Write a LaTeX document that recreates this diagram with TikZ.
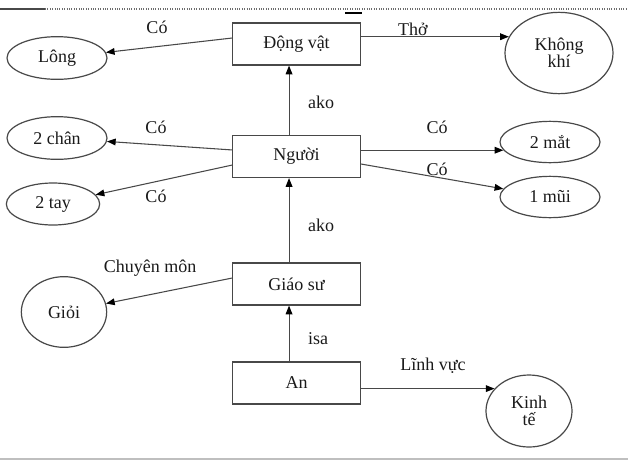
\documentclass[tikz,border=0pt]{standalone}
\usepackage{fontspec}
\setmainfont{Liberation Serif}
\usetikzlibrary{arrows.meta,shapes.geometric}
\definecolor{linec}{HTML}{484848}
\definecolor{textc}{HTML}{1A1A1A}
\tikzset{
  box/.style={draw=linec, line width=0.9pt, minimum width=95.5pt, minimum height=31.5pt, inner sep=0pt, text=textc, font=\fontsize{13.5}{15}\selectfont},
  oval/.style={draw=linec, line width=0.9pt, ellipse, inner sep=0pt, text=textc, align=center, font=\fontsize{13.5}{15}\selectfont},
  lbl/.style={text=textc, inner sep=0pt, font=\fontsize{13.5}{15}\selectfont},
  arr/.style={draw=linec, line width=0.8pt, -{Triangle[length=6.5pt,width=5pt,color=black,fill=black]}},
}
\begin{document}
\begin{tikzpicture}[x=0.75pt,y=-0.75pt]
\useasboundingbox (0,0) rectangle (628,461);
% page decorations
\coordinate (t0) at (0,9);
\coordinate (t1) at (45,9);
\coordinate (t2) at (628,9);
\draw[linec, line width=1pt] (t0) -- (t1);
\draw[linec!80, line width=0.9pt, dash pattern=on 0.8pt off 1pt] (t1) -- (t2);
\coordinate (m0) at (345,13);
\coordinate (m1) at (362,13);
\draw[black, line width=2pt] (m0) -- (m1);
\coordinate (b0) at (0,459);
\coordinate (b1) at (628,459);
\draw[gray!50, line width=1.5pt] (b0) -- (b1);

% boxes
\node[box] (dv) at (296.5,44) {Động vật};
\node[box] (ng) at (296.5,156.5) {Người};
\node[box] (gs) at (296.5,284) {Giáo sư};
\node[box] (an) at (296.5,383) {An};

% ovals
\node[oval, minimum width=75pt, minimum height=32pt] (lo) at (57,58) {Lông};
\node[oval, minimum width=81pt, minimum height=61pt] (kk) at (559,53) {Không\\[-2pt]khí};
\node[oval, minimum width=75pt, minimum height=32pt] (ch) at (57,138) {2 chân};
\node[oval, minimum width=70pt, minimum height=31.5pt] (ta) at (53,204) {2 tay};
\node[oval, minimum width=75pt, minimum height=31pt] (mat) at (550,142) {2 mắt};
\node[oval, minimum width=75pt, minimum height=31pt] (mui) at (550,197) {1 mũi};
\node[oval, minimum width=64pt, minimum height=53pt] (gi) at (64,312) {Giỏi};
\node[oval, minimum width=64.5pt, minimum height=54pt] (kt) at (529,411) {Kinh\\[-2pt]tế};

% connectors
\draw[arr] ([yshift=4.5pt]dv.west) -- (lo);
\draw[arr] (dv.east |- kk.162) -- (kk.162);
\draw[arr] ([xshift=-5.6pt]ng.north) -- ([xshift=-5.6pt]dv.south);
\draw[arr] ([yshift=4.9pt]ng.west) -- (ch);
\draw[arr] ([yshift=-6.4pt]ng.west) -- (ta);
\draw[arr] (ng.east |- mat.190) -- (mat.190);
\draw[arr] ([yshift=-5.6pt]ng.east) -- (mui);
\draw[arr] ([xshift=-5.6pt]gs.north) -- ([xshift=-5.6pt]ng.south);
\draw[arr] ([yshift=4.5pt]gs.west) -- (gi);
\draw[arr] ([xshift=-5.6pt]an.north) -- ([xshift=-5.6pt]gs.south);
\draw[arr] (an.east |- kt.147) -- (kt.147);

% labels
\node[lbl] (l1) at (157,27) {Có};
\node[lbl] (l2) at (413,29) {Thở};
\node[lbl] (l3) at (321,102) {ako};
\node[lbl] (l4) at (156,127) {Có};
\node[lbl] (l5) at (156,196) {Có};
\node[lbl] (l6) at (437,127) {Có};
\node[lbl] (l7) at (437,169) {Có};
\node[lbl] (l8) at (321,225) {ako};
\node[lbl] (l9) at (150,268) {Chuyên môn};
\node[lbl] (l10) at (318,339) {isa};
\node[lbl] (l11) at (433,366) {Lĩnh vực};
\end{tikzpicture}
\end{document}
